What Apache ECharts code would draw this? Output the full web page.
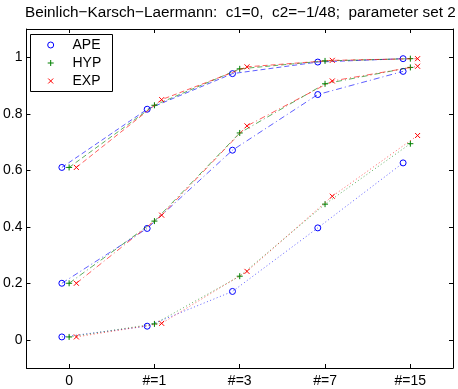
<!DOCTYPE html>
<html><head><meta charset="utf-8">
<script src="https://cdn.jsdelivr.net/npm/echarts@6/dist/echarts.min.js"></script>
<style>html,body{margin:0;padding:0;background:#fff}#c{width:458px;height:389px}</style>
</head><body><div id="c"></div>
<script>
var titleText = 'Beinlich\u2212Karsch\u2212Laermann:  c1=0,  c2=\u22121/48;  parameter set 2';
var categories = ['0', '#=1', '#=3', '#=7', '#=15'];
var yTicks = [0, 0.2, 0.4, 0.6, 0.8, 1];
var methods = ['APE', 'HYP', 'EXP'];
var offsets = { APE: -0.085, HYP: 0, EXP: 0.085 };

// top set (dashed)
var apeTop = [0.61, 0.816, 0.942, 0.983, 0.995];
var hypTop = [0.61, 0.830, 0.959, 0.987, 0.995];
var expTop = [0.61, 0.850, 0.966, 0.989, 0.995];
// middle set (dash-dot)
var apeMid = [0.20, 0.394, 0.671, 0.868, 0.950];
var hypMid = [0.20, 0.420, 0.732, 0.906, 0.964];
var expMid = [0.20, 0.441, 0.757, 0.916, 0.968];
// bottom set (dotted)
var apeLow = [0.01, 0.048, 0.171, 0.396, 0.626];
var hypLow = [0.01, 0.056, 0.225, 0.480, 0.694];
var expLow = [0.01, 0.058, 0.242, 0.508, 0.723];

var FONT = '"Liberation Sans", Arial, Helvetica, sans-serif';
var colors = { APE: '#0000ff', HYP: '#008000', EXP: '#ff0000' };
var symbols = {
  APE: 'circle',
  HYP: 'path://M0,5L10,5M5,0L5,10',
  EXP: 'path://M0,0L10,10M10,0L0,10'
};
var sizes = { APE: 6, HYP: 6, EXP: 5 };
var dashes = { top: [5, 3], mid: [6, 3, 1, 3], low: [1, 2.5] };

var sets = [
  { key: 'top', APE: apeTop, HYP: hypTop, EXP: expTop },
  { key: 'mid', APE: apeMid, HYP: hypMid, EXP: expMid },
  { key: 'low', APE: apeLow, HYP: hypLow, EXP: expLow }
];

var series = [];
sets.forEach(function (s) {
  methods.forEach(function (m) {
    series.push({
      name: m,
      type: 'line',
      xAxisIndex: 0, yAxisIndex: 0,
      data: s[m].map(function (v, i) { return [i + offsets[m], v]; }),
      symbol: symbols[m],
      symbolSize: sizes[m],
      showSymbol: true,
      lineStyle: { color: colors[m], width: 0.9, type: dashes[s.key], opacity: 0.7 },
      itemStyle: { color: 'rgba(0,0,0,0)', borderColor: colors[m], borderWidth: 1 },
      z: m === 'EXP' ? 4 : (m === 'HYP' ? 3 : 2)
    });
  });
});

var tickIdx = categories.map(function (c, i) { return i; });

// legend drawn as a framed box (entry layout)
var legendX = 30, legendY = 34, legendW = 82, legendH = 57;
var legendRowY = [45, 63, 81];
var legendIconX = 50.7, legendTextX = 72.5;
var legendEls = [{
  type: 'rect', z: 100,
  shape: { x: legendX + 0.5, y: legendY + 0.5, width: legendW, height: legendH },
  style: { fill: '#fff', stroke: '#000', lineWidth: 1 }
}];
function seg(x1, y1, x2, y2, c) {
  return { type: 'line', z: 101, shape: { x1: x1, y1: y1, x2: x2, y2: y2 }, style: { stroke: c, lineWidth: 1 } };
}
methods.forEach(function (m, i) {
  var cy = legendRowY[i], cx = legendIconX;
  if (m === 'APE') {
    legendEls.push({ type: 'circle', z: 101, shape: { cx: cx, cy: cy, r: 3 }, style: { fill: 'none', stroke: colors[m], lineWidth: 1 } });
  } else if (m === 'HYP') {
    legendEls.push(seg(cx - 3, cy, cx + 3, cy, colors[m]));
    legendEls.push(seg(cx, cy - 3, cx, cy + 3, colors[m]));
  } else {
    legendEls.push(seg(cx - 2.5, cy - 2.5, cx + 2.5, cy + 2.5, colors[m]));
    legendEls.push(seg(cx + 2.5, cy - 2.5, cx - 2.5, cy + 2.5, colors[m]));
  }
  legendEls.push({
    type: 'text', z: 101, x: legendTextX, y: cy,
    style: { text: m, fill: '#000', font: '14px ' + FONT, verticalAlign: 'middle' }
  });
});

var chart = echarts.init(document.getElementById('c'), null, { renderer: 'canvas' });
chart.setOption({
  animation: false,
  backgroundColor: '#fff',
  textStyle: { fontFamily: FONT },
  title: {
    text: titleText,
    left: 25, top: 5,
    padding: 0,
    textStyle: { fontSize: 15.3, fontWeight: 'normal', color: '#000', fontFamily: FONT }
  },
  graphic: legendEls,
  grid: { left: 25, right: 5, top: 29, bottom: 21, containLabel: false },
  xAxis: [
    {
      type: 'value', min: -0.5, max: 4.5, position: 'bottom',
      splitLine: { show: false },
      axisLine: { show: true, onZero: false, lineStyle: { color: '#000', width: 1 } },
      axisTick: { show: true, inside: true, length: 4, customValues: tickIdx, lineStyle: { color: '#000' } },
      axisLabel: { show: true, customValues: tickIdx, margin: 6, fontSize: 14, color: '#000', fontFamily: FONT,
        formatter: function (v) { return categories[Math.round(v)]; } }
    },
    {
      type: 'value', min: -0.5, max: 4.5, position: 'top',
      splitLine: { show: false },
      axisLine: { show: true, onZero: false, lineStyle: { color: '#000', width: 1 } },
      axisTick: { show: true, inside: true, length: 4, customValues: tickIdx, lineStyle: { color: '#000' } },
      axisLabel: { show: false }
    }
  ],
  yAxis: [
    {
      type: 'value', min: -0.1, max: 1.1, position: 'left',
      splitLine: { show: false },
      axisLine: { show: true, onZero: false, lineStyle: { color: '#000', width: 1 } },
      axisTick: { show: true, inside: true, length: 4, customValues: yTicks, lineStyle: { color: '#000' } },
      axisLabel: { show: true, customValues: yTicks, margin: 4, fontSize: 14, color: '#000', fontFamily: FONT,
        formatter: function (v) { return String(Math.round(v * 10) / 10); } }
    },
    {
      type: 'value', min: -0.1, max: 1.1, position: 'right',
      splitLine: { show: false },
      axisLine: { show: true, onZero: false, lineStyle: { color: '#000', width: 1 } },
      axisTick: { show: true, inside: true, length: 4, customValues: yTicks, lineStyle: { color: '#000' } },
      axisLabel: { show: false }
    }
  ],
  series: series
});
</script></body></html>
